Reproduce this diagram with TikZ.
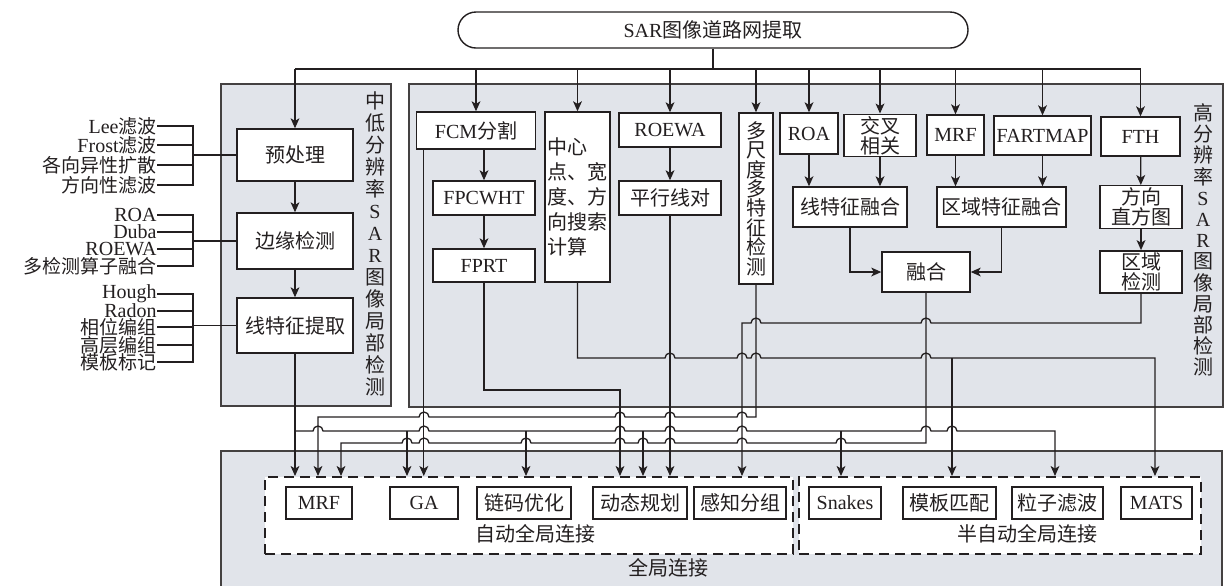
\documentclass[tikz,border=0pt]{standalone}
\usepackage{fontspec}
\setmainfont{Liberation Serif}
\newfontfamily\cjk{Noto Sans CJK SC}
\newcommand{\zh}[1]{{\cjk #1}}
\usepackage{tikz}
\usetikzlibrary{arrows.meta}
\definecolor{panelgray}{RGB}{225,228,234}
\definecolor{ink}{RGB}{35,31,32}
\tikzset{
  box/.style={draw=ink, fill=white, line width=0.7pt, inner sep=1pt, align=center, text=ink},
  cn/.style={font=\cjk},
  lbl/.style={anchor=east, text=ink, inner sep=0pt, font=\fontsize{10}{10}\selectfont},
  lblzh/.style={lbl, font=\fontsize{9.5}{9.5}\selectfont\cjk},
  panel/.style={draw=ink!85, fill=panelgray, line width=0.7pt},
  conn/.style={draw=ink, line width=0.65pt},
  arr/.style={conn, -{Stealth[length=5pt,width=4.4pt,inset=1.3pt]}},
  dbox/.style={draw=ink, fill=white, line width=1pt, dash pattern=on 5pt off 3pt},
  hopr/.style={start angle=180, end angle=0, radius=2.5pt},
  hopl/.style={start angle=0, end angle=180, radius=2.5pt},
}

\begin{document}
\begin{tikzpicture}[x=0.5pt,y=-0.5pt]
    \useasboundingbox (0,0) rectangle (1227,585);
    % panels
    \draw[panel] (221,84) rectangle (391,406);
    \draw[panel] (409,84) rectangle (1223,407);
    \draw[panel] (221,451) rectangle (1222,600);
    \node[text=ink, align=center, font=\fontsize{10}{11}\selectfont\cjk] (lowtxt) at (375,243.5)
        {中\\低\\分\\辨\\率\\{\rmfamily S}\\{\rmfamily A}\\{\rmfamily R}\\图\\像\\局\\部\\检\\测};
    \node[text=ink, align=center, font=\fontsize{10}{10.6}\selectfont\cjk] (hightxt) at (1203,240)
        {高\\分\\辨\\率\\{\rmfamily S}\\{\rmfamily A}\\{\rmfamily R}\\图\\像\\局\\部\\检\\测};

    % title
    \node[box, rounded corners=9pt, minimum width=255pt, minimum height=18pt] (title) at (713,30) {SAR\zh{图像道路网提取}};
    \coordinate (busy) at (0,69);

    % low resolution
    \node[box, cn, minimum width=58pt, minimum height=26pt] (pre) at (295,155) {预处理};
    \node[box, cn, minimum width=58pt, minimum height=28pt] (edge) at (295,241) {边缘检测};
    \node[box, cn, minimum width=58pt, minimum height=27.5pt] (lfe) at (295,325.5) {线特征提取};
    \draw[arr] (pre) -- (edge);
    \draw[arr] (edge) -- (lfe);

    \node[lbl] (l1) at (157,126) {Lee\zh{\fontsize{9.5}{9.5}\selectfont 滤波}};
    \node[lbl] (l2) at (157,145) {Frost\zh{\fontsize{9.5}{9.5}\selectfont 滤波}};
    \node[lblzh] (l3) at (157,165) {各向异性扩散};
    \node[lblzh] (l4) at (157,185) {方向性滤波};
    \draw[conn] (l1.east) -- (193,126) -- (193,185) -- (l4.east);
    \draw[conn] (l2.east) -- (193,145);
    \draw[conn] (l3.east) -- (193,165);
    \draw[conn] (pre.west -| 193,0) -- (pre.west);

    \node[lbl] (e1) at (157,215) {ROA};
    \node[lbl] (e2) at (157,232) {Duba};
    \node[lbl] (e3) at (157,249) {ROEWA};
    \node[lblzh] (e4) at (157,266) {多检测算子融合};
    \draw[conn] (e1.east) -- (193,215) -- (193,266) -- (e4.east);
    \draw[conn] (e2.east) -- (193,232);
    \draw[conn] (e3.east) -- (193,249);
    \draw[conn] (edge.west -| 193,0) -- (edge.west);

    \node[lbl] (h1) at (157,294) {Hough};
    \node[lbl] (h2) at (157,311) {Radon};
    \node[lblzh] (h3) at (157,327) {相位编组};
    \node[lblzh] (h4) at (157,345) {高层编组};
    \node[lblzh] (h5) at (157,362) {模板标记};
    \draw[conn] (h1.east) -- (193,294) -- (193,362) -- (h5.east);
    \draw[conn] (h2.east) -- (193,311);
    \draw[conn] (h3.east) -- (193,327);
    \draw[conn] (h4.east) -- (193,345);
    \draw[conn] (lfe.west -| 193,0) -- (lfe.west);

    % high resolution
    \node[box, minimum width=59.5pt, minimum height=18.5pt] (fcm) at (476,130.5) {FCM\zh{分割}};
    \node[box, minimum width=51pt, minimum height=17pt] (fpc) at (484,198) {FPCWHT};
    \node[box, minimum width=51pt, minimum height=16.5pt] (fprt) at (484,265.5) {FPRT};
    \node[box, cn, align=left, text width=30pt, inner xsep=1.25pt, minimum height=85pt,
          font=\fontsize{10}{12.5}\selectfont\cjk] (cen) at (577.5,197) {中心\\点、宽\\度、方\\向搜索\\计算};
    \node[box, minimum width=51pt, minimum height=17pt] (roewa) at (670,130) {ROEWA};
    \node[box, cn, minimum width=51pt, minimum height=17pt] (par) at (670,198) {平行线对};
    \node[box, cn, inner sep=0pt, minimum width=17pt, minimum height=85.5pt,
          font=\fontsize{10}{9.7}\selectfont\cjk] (multi) at (756,198.5) {多\\尺\\度\\多\\特\\征\\检\\测};
    \node[box, minimum width=29pt, minimum height=20.5pt] (roa) at (809,133.5) {ROA};
    \node[box, cn, minimum width=36pt, minimum height=20.5pt,
          font=\fontsize{10}{10}\selectfont\cjk] (xcorr) at (880,135.5) {交叉\\相关};
    \node[box, minimum width=28.5pt, minimum height=20pt] (mrfh) at (955.5,135) {MRF};
    \node[box, minimum width=48.5pt, minimum height=19.5pt] (fart) at (1042.5,135.5) {FARTMAP};
    \node[box, minimum width=39.5pt, minimum height=19.5pt] (fth) at (1140.5,136.5) {FTH};
    \node[box, cn, minimum width=57pt, minimum height=20pt] (linefuse) at (850,207) {线特征融合};
    \node[box, cn, minimum width=64.5pt, minimum height=20pt] (regfuse) at (1001.5,207) {区域特征融合};
    \node[box, cn, minimum width=41pt, minimum height=19pt,
          font=\fontsize{10}{10}\selectfont\cjk] (hist) at (1141,207) {方向\\直方图};
    \node[box, cn, minimum width=41pt, minimum height=20pt,
          font=\fontsize{10}{10}\selectfont\cjk] (regdet) at (1141,272) {区域\\检测};
    \node[box, cn, minimum width=44pt, minimum height=20pt] (fusion) at (926,272) {融合};

    % title bus
    \draw[conn] (title.south) -- (title.south |- busy);
    \draw[conn] (pre.north |- busy) -- (fth.north |- busy);
    \draw[arr] (pre.north |- busy) -- (pre.north);
    \draw[arr] (fcm.north |- busy) -- (fcm.north);
    \draw[arr] (cen.north |- busy) -- (cen.north);
    \draw[arr] (roewa.north |- busy) -- (roewa.north);
    \draw[arr] (multi.north |- busy) -- (multi.north);
    \draw[arr] (roa.north |- busy) -- (roa.north);
    \draw[arr] (xcorr.north |- busy) -- (xcorr.north);
    \draw[arr] (mrfh.north |- busy) -- (mrfh.north);
    \draw[arr] (fart.north |- busy) -- (fart.north);
    \draw[arr] (fth.north |- busy) -- (fth.north);

    \draw[arr] (fcm.south -| fpc.north) -- (fpc.north);
    \draw[arr] (fpc) -- (fprt);
    \draw[arr] (roewa) -- (par);
    \draw[arr] (roa.south) -- (roa.south |- linefuse.north);
    \draw[arr] (xcorr.south) -- (xcorr.south |- linefuse.north);
    \draw[arr] (mrfh.south) -- (mrfh.south |- regfuse.north);
    \draw[arr] (fart.south) -- (fart.south |- regfuse.north);
    \draw[arr] (fth) -- (hist);
    \draw[arr] (hist) -- (regdet);
    \draw[arr] (linefuse.south) |- (fusion.west);
    \draw[arr] (regfuse.south) |- (fusion.east);

    % global linking
    \node[dbox, minimum width=264pt, minimum height=38.5pt] (autob) at (529,515.5) {};
    \node[dbox, minimum width=201pt, minimum height=38.5pt] (semib) at (1000,515.5) {};
    \node[box, minimum width=33pt, minimum height=16pt] (mrf) at (319,503) {MRF};
    \node[box, minimum width=34pt, minimum height=16pt] (ga) at (424,503) {GA};
    \node[box, cn, minimum width=47pt, minimum height=16pt] (chain) at (524,503) {链码优化};
    \node[box, cn, minimum width=47pt, minimum height=16pt] (dp) at (640,503) {动态规划};
    \node[box, cn, minimum width=46pt, minimum height=16pt] (pg) at (740,503) {感知分组};
    \node[box, minimum width=36pt, minimum height=16pt] (snakes) at (845,503) {Snakes};
    \node[box, cn, minimum width=46.5pt, minimum height=16pt] (tm) at (949.5,503) {模板匹配};
    \node[box, cn, minimum width=45.5pt, minimum height=16pt] (pf) at (1057.5,503) {粒子滤波};
    \node[box, minimum width=35.5pt, minimum height=16pt] (mats) at (1156.5,503) {MATS};
    \node[cn, text=ink] (autolbl) at (535,534) {自动全局连接};
    \node[cn, text=ink] (semilbl) at (1027,534) {半自动全局连接};
    \node[cn, text=ink] (globlbl) at (668,568) {全局连接};

    % wiring to the global linking methods
    \draw[arr] (lfe.south) -- (lfe.south |- autob.north);
    \draw[arr] (lfe.south |- 0,431) -- (313,431) arc[hopr] -- (419,431) arc[hopr] -- (615,431) arc[hopr]
        -- (665,431) arc[hopr] -- (737,431) arc[hopr] -- (921,431) arc[hopr] -- (947,431) arc[hopr]
        -- (1055,431) -- (1055,431 |- semib.north);
    \draw[arr] (407,431) -- (407,431 |- autob.north);
    \draw[arr] (526,431) -- (526,431 |- autob.north);
    \draw[arr] (643,431) -- (643,431 |- autob.north);
    \draw[arr] (841,431) -- (841,431 |- semib.north);

    \draw[arr] (multi.south) -- (756,417) -- (747,417) arc[hopl] -- (675,417) arc[hopl] -- (625,417) arc[hopl]
        -- (429,417) arc[hopl] -- (318,417) -- (318,417 |- autob.north);

    \draw[arr] (fusion.south) -- (926,443) -- (846,443) arc[hopl] -- (747,443) arc[hopl] -- (675,443) arc[hopl]
        -- (648,443) arc[hopl] -- (625,443) arc[hopl] -- (531,443) arc[hopl] -- (429,443) arc[hopl]
        -- (412,443) arc[hopl] -- (341,443) -- (341,443 |- autob.north);

    \draw[arr] (cen.south) -- (577.5,358) -- (665,358) arc[hopr] -- (737,358) arc[hopr] -- (751,358) arc[hopr]
        -- (921,358) arc[hopr] -- (1155,358) -- (1155,358 |- semib.north);
    \draw[arr] (952,358) -- (952,358 |- semib.north);

    \draw[arr] (regdet.south) -- (1141,323) -- (931,323) arc[hopl] -- (761,323) arc[hopl]
        -- (742,323) -- (742,323 |- autob.north);

    \draw[arr] (fprt.south) -- (484,390) -- (620,390) -- (620,390 |- autob.north);
    \draw[arr] (par.south) -- (par.south |- autob.north);
    \draw[arr] ([xshift=4pt]fcm.south west) -- ([xshift=4pt]fcm.south west |- autob.north);
\end{tikzpicture}
\end{document}
